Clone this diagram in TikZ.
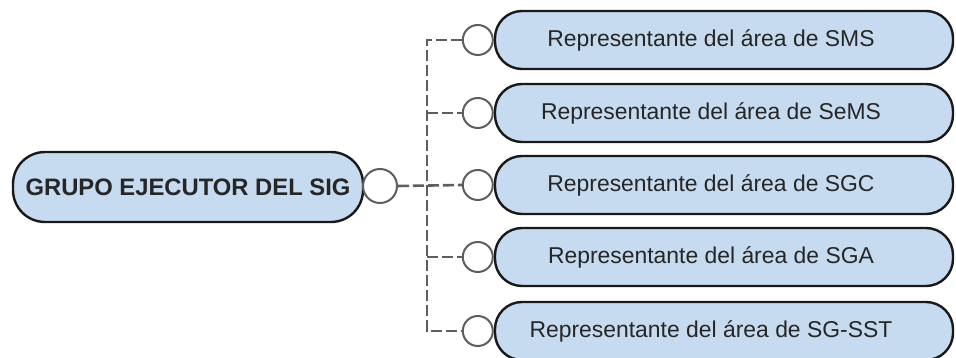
\documentclass[tikz,border=0pt]{standalone}
\usepackage{fontspec}
\setmainfont{Liberation Sans}
\definecolor{boxfill}{HTML}{C6DAF0}
\definecolor{linegray}{HTML}{5E5E5E}
\begin{document}
\begin{tikzpicture}[x=1pt,y=-1pt,
  mainbox/.style={draw=black!90, line width=2.4pt, fill=boxfill, rounded corners=32pt,
    minimum width=350pt, minimum height=70pt, inner sep=0pt, font=\bfseries\fontsize{23.8}{26}\selectfont, text=black!85},
  childbox/.style={draw=black!90, line width=2.4pt, fill=boxfill, rounded corners=27pt,
    minimum width=458pt, minimum height=58pt, inner sep=0pt, font=\fontsize{22.9}{26}\selectfont, text=black!85},
  port/.style={circle, draw=linegray, line width=2pt, fill=white, inner sep=0pt},
  conn/.style={draw=linegray, line width=2.6pt, dash pattern=on 11pt off 4pt}
]
\useasboundingbox (0,0) rectangle (956,358);
\node[mainbox] (main) at (188,187) {GRUPO EJECUTOR DEL SIG};
\node[port, minimum size=34pt] (mp) at (380,186) {};

\node[childbox] (r1) at (724,40)  {\hspace*{-26pt}Representante del área de SMS};
\node[childbox] (r2) at (724,113) {\hspace*{-26pt}Representante del área de SeMS};
\node[childbox] (r3) at (724,185) {\hspace*{-26pt}Representante del área de SGC};
\node[childbox] (r4) at (724,257) {\hspace*{-26pt}Representante del área de SGA};
\node[childbox] (r5) at (724,331) {\hspace*{-26pt}Representante del área de SG-SST};

\foreach \i in {1,...,5}{
  \node[port, minimum size=30pt, anchor=east] (p\i) at (r\i.west) {};
}

\coordinate (bt) at (427,0 |- p1);
\coordinate (bb) at (427,0 |- p5);

\draw[conn] (p1.west) -- (bt) -- (bb) -- (p5.west);
\draw[conn] (bt |- p2) -- (p2.west);
\draw[conn] (bt |- p4) -- (p4.west);
\draw[conn] (mp.east) -- (p3.west);
\end{tikzpicture}
\end{document}
